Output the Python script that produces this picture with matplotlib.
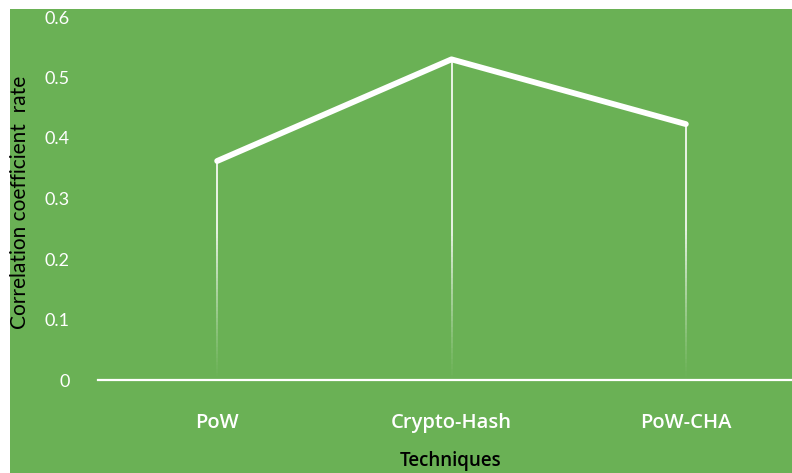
import matplotlib
matplotlib.use("Agg")
import matplotlib.pyplot as plt
import numpy as np
from matplotlib.patches import Rectangle
from matplotlib.collections import LineCollection

categories = ["PoW", "Crypto-Hash", "PoW-CHA"]
values = [0.362, 0.530, 0.423]
yticks = [0, 0.1, 0.2, 0.3, 0.4, 0.5, 0.6]
ytick_labels = ["0", "0.1", "0.2", "0.3", "0.4", "0.5", "0.6"]

W, H = 792, 473
fig = plt.figure(figsize=(W / 100, H / 100), dpi=100)
fig.patch.set_facecolor("white")
green = "#6AB155"
fig.patches.append(Rectangle((10 / W, 0), 1, 1 - 9 / H, transform=fig.transFigure,
                             facecolor=green, edgecolor="none", zorder=-10))

ax_left, ax_right = 100, 803
ax_bottom_px, ax_top_px = 380, 17
ax = fig.add_axes([ax_left / W, (H - ax_bottom_px) / H,
                   (ax_right - ax_left) / W, (ax_bottom_px - ax_top_px) / H])
ax.set_facecolor("none")
x = list(range(len(categories)))
ax.set_xlim(-0.5, 2.5)
ax.set_ylim(0, 0.6)

# drop lines fading towards the axis
n = 60
for xi, v in zip(x, values):
    ys = np.linspace(0, v, n + 1)
    segs = [[(xi, ys[i]), (xi, ys[i + 1])] for i in range(n)]
    mids = (ys[:-1] + ys[1:]) / 2
    alphas = np.clip(mids / 0.25, 0, 1) ** 1.2
    cols = [(1, 1, 1, a) for a in alphas]
    ax.add_collection(LineCollection(segs, colors=cols, linewidths=1.2, zorder=2,
                                     capstyle="butt"))
ax.plot(x, values, color="white", lw=4.2, zorder=3, solid_capstyle="round",
        solid_joinstyle="round")

for s in ["top", "right", "left"]:
    ax.spines[s].set_visible(False)
ax.spines["bottom"].set_color("white")
ax.spines["bottom"].set_linewidth(1.6)
ax.spines["bottom"].set_bounds(-0.51, 2.6)

ax.set_yticks(yticks)
ax.set_yticklabels(ytick_labels, fontfamily="Lato", fontsize=13, color="white")
ax.tick_params(axis="y", length=0, pad=22)
ax.set_xticks(x)
ax.set_xticklabels(categories, fontfamily="Open Sans", fontsize=14.5,
                   color="white", fontweight="semibold")
ax.tick_params(axis="x", length=0, pad=24)

fig.text(20 / W, 1 - 202 / H, "Correlation coefficient  rate", rotation=90,
         ha="center", va="center", fontfamily="Lato", fontsize=15, color="black")
fig.text(451 / W, 1 - 451 / H, "Techniques", ha="center", va="top",
         fontfamily="Open Sans", fontsize=13.5, color="black", fontweight="semibold")

fig.savefig("out.png", dpi=100)
